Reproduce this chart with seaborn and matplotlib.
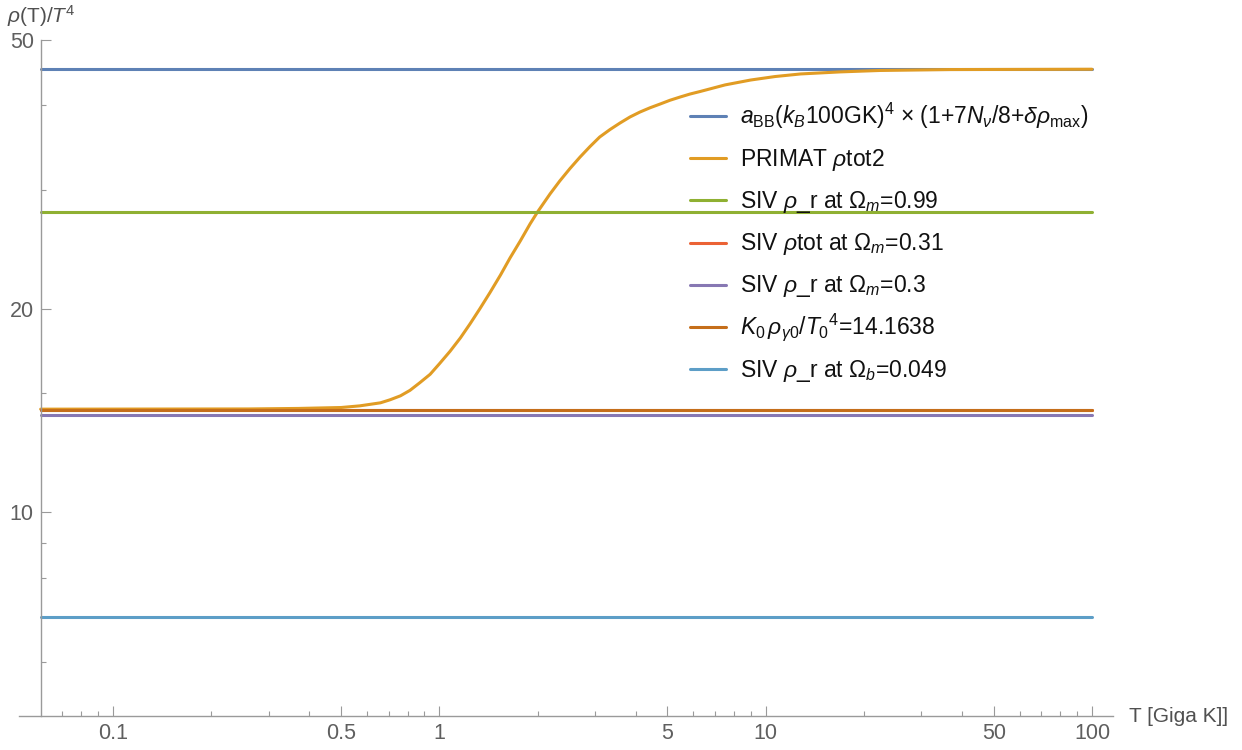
import numpy as np
import pandas as pd
import matplotlib
matplotlib.use("Agg")
import matplotlib.pyplot as plt
from matplotlib.lines import Line2D
from matplotlib.ticker import NullFormatter
import seaborn as sns

# ---------------- data ----------------
series_labels = [
    r"$a_{\rm BB}$($k_B$100GK)$^4$ × (1+7$N_\nu$/8+$\delta\rho_{\rm max}$)",
    r"PRIMAT $\rho$tot2",
    r"SIV $\rho$_r at $\Omega_m$=0.99",
    r"SIV $\rho$tot at $\Omega_m$=0.31",
    r"SIV $\rho$_r at $\Omega_m$=0.3",
    r"$K_0\,\rho_{\gamma 0}/T_0{}^4$=14.1638",
    r"SIV $\rho$_r at $\Omega_b$=0.049",
]
series_colors = ["#5E81B5", "#E19C24", "#8FB032", "#EB6235", "#8778B3", "#C56E1A", "#5D9EC7"]

t_range = [0.06, 100]
const_aBB = 45.2
const_siv_099 = 27.77
const_siv_tot_031 = 14.15
const_siv_030 = 13.93
const_K0 = 14.1638
const_siv_b = 6.985

primat_T = [0.06, 0.26, 0.37, 0.5, 0.57, 0.66, 0.706, 0.76, 0.813, 0.87,
            0.937, 1.0, 1.078, 1.16, 1.242, 1.33, 1.43, 1.54, 1.647, 1.77,
            1.897, 2.0, 2.184, 2.34, 2.515, 2.7, 2.896, 3.1, 3.335, 3.58,
            3.841, 4.12, 4.423, 4.75, 5.093, 5.47, 5.866, 6.3, 7.51, 9.0,
            10.69, 12.8, 16.9, 22.4, 36.8, 100]
primat_rho = [14.2, 14.21, 14.235, 14.28, 14.36, 14.51, 14.66, 14.86, 15.14, 15.53,
              15.99, 16.57, 17.29, 18.10, 18.99, 19.98, 21.13, 22.43, 23.77, 25.18,
              26.69, 27.8, 29.56, 30.9, 32.24, 33.52, 34.74, 35.88, 36.81, 37.64,
              38.42, 39.07, 39.64, 40.15, 40.67, 41.12, 41.54, 41.9, 42.85, 43.57,
              44.09, 44.48, 44.79, 45.01, 45.15, 45.2]

x_major = [0.1, 0.5, 1, 5, 10, 50, 100]
x_major_labels = ["0.1", "0.5", "1", "5", "10", "50", "100"]
x_minor = [0.07, 0.08, 0.09, 0.2, 0.3, 0.4, 0.6, 0.7, 0.8, 0.9, 2, 3, 4,
           6, 7, 8, 9, 20, 30, 40, 60, 70, 80, 90]
y_major = [10, 20, 50]
y_major_labels = ["10", "20", "50"]
y_minor = [6, 7, 8, 9, 15, 30, 40]

# ---------------- long-form table ----------------
consts = [const_aBB, None, const_siv_099, const_siv_tot_031, const_siv_030,
          const_K0, const_siv_b]
rows = []
for lab, c in zip(series_labels, consts):
    if c is None:
        for t, r in zip(primat_T, primat_rho):
            rows.append((lab, t, r))
    else:
        for t in t_range:
            rows.append((lab, t, c))
df = pd.DataFrame(rows, columns=["series", "T", "rho"])

# ---------------- style ----------------
sns.set_theme(style="white")
plt.rcParams["font.family"] = ["Liberation Sans", "DejaVu Sans"]
plt.rcParams["mathtext.fontset"] = "custom"
plt.rcParams["mathtext.rm"] = "Liberation Sans"
plt.rcParams["mathtext.it"] = "Liberation Sans:italic"
plt.rcParams["mathtext.bf"] = "Liberation Sans:bold"

W, H = 1242, 750
fig = plt.figure(figsize=(W / 100, H / 100), dpi=100)
ax_left, ax_right, ax_top, ax_bottom = 19, 1113, 39.6, 715.6
ax = fig.add_axes([ax_left / W, 1 - ax_bottom / H,
                   (ax_right - ax_left) / W, (ax_bottom - ax_top) / H])

palette = dict(zip(series_labels, series_colors))
sns.lineplot(data=df, x="T", y="rho", hue="series", hue_order=series_labels,
             palette=palette, estimator=None, sort=True, legend=False,
             linewidth=2.2, ax=ax)
for ln in ax.get_lines():
    ln.set_solid_joinstyle("round")

ax.set_xscale("log")
ax.set_yscale("log")
ax.set_xlim(0.0515, 116)
ax.set_ylim(5.0, 50)
ax.set_xlabel("")
ax.set_ylabel("")

axis_gray = "#9a9a9a"
label_gray = "#5f5f5f"
for s in ["top", "right"]:
    ax.spines[s].set_visible(False)
ax.spines["left"].set_position(("data", 0.06))
ax.spines["bottom"].set_position(("data", 5.0))
for s in ["left", "bottom"]:
    ax.spines[s].set_color(axis_gray)
    ax.spines[s].set_linewidth(1.0)

ax.set_xticks(x_major, labels=x_major_labels)
ax.set_xticks(x_minor, labels=[""] * len(x_minor), minor=True)
ax.set_yticks(y_major, labels=y_major_labels)
ax.set_yticks(y_minor, labels=[""] * len(y_minor), minor=True)
ax.xaxis.set_minor_formatter(NullFormatter())
ax.yaxis.set_minor_formatter(NullFormatter())
ax.tick_params(which="both", bottom=True, left=True, top=False, right=False)
ax.tick_params(which="major", direction="in", length=7.5, width=0.8,
               color=axis_gray, labelcolor=label_gray, labelsize=15.5)
ax.tick_params(which="minor", direction="in", length=3.5, width=0.8,
               color=axis_gray)
ax.tick_params(axis="x", which="major", pad=5)
ax.tick_params(axis="y", which="major", pad=5)
ax.grid(False)
ax.set_facecolor("white")

# axis labels (Mathematica style, at axis ends)
fig.text(1129 / W, 1 - 716 / H, "T [Giga K]]", ha="left", va="center",
         fontsize=15, color="#505050")
fig.text(7 / W, 1 - 23 / H, r"$\rho$(T)/$T^4$", ha="left", va="baseline",
         fontsize=15, color="#505050")

# legend (Mathematica style)
leg_y0, leg_dy = 116, 42.2
for i, (lab, col) in enumerate(zip(series_labels, series_colors)):
    y = leg_y0 + i * leg_dy
    fig.add_artist(Line2D([690 / W, 726 / W], [1 - y / H, 1 - y / H],
                          color=col, lw=2.2, transform=fig.transFigure))
    fig.text(740 / W, 1 - (y + 7.5) / H, lab, ha="left", va="baseline",
             fontsize=16.5, color="#111111")

fig.savefig("out.png", dpi=100, facecolor="white")
